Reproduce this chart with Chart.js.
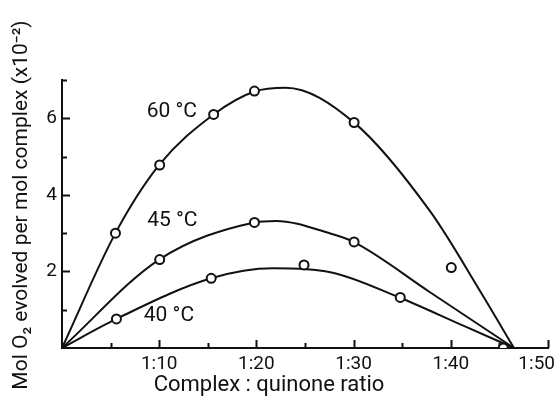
<!DOCTYPE html>
<html>
<head>
<meta charset="utf-8">
<script src="https://cdn.jsdelivr.net/npm/chart.js@4.4.0/dist/chart.umd.min.js"></script>
<style>
  html, body { margin: 0; padding: 0; background: #fff; }
  #wrap { width: 558px; height: 396px; }
</style>
</head>
<body>
<div id="wrap"><canvas id="o2Chart" width="558" height="396"></canvas></div>
<script>
// Series names
const seriesNames = ['60 °C', '45 °C', '40 °C'];

// Measured points (complex:quinone ratio 1:x, mol O2 x 10^-2)
const pts60X = [5.5, 10.05, 15.6, 19.8, 30.05];
const pts60Y = [3.0, 4.78, 6.1, 6.71, 5.89];
const pts45X = [10.05, 19.8, 30.05, 40.05];
const pts45Y = [2.31, 3.28, 2.77, 2.1];
const pts40X = [5.6, 15.35, 24.9, 34.8, 45.4];
const pts40Y = [0.76, 1.82, 2.17, 1.32, 0];

// Hand-fitted curves through the points
const curve60X = [0, 5.5, 10, 15.6, 19.8, 23, 30, 37.9, 43.1, 46.5];
const curve60Y = [0, 3.0, 4.78, 6.1, 6.7, 6.8, 5.9, 3.56, 1.45, 0];
const curve45X = [0, 10, 19.8, 22, 27.6, 30, 37.9, 46.5];
const curve45Y = [0, 2.31, 3.28, 3.32, 2.99, 2.77, 1.45, 0];
const curve40X = [0, 5.6, 15.35, 21.7, 27.6, 34.7, 41.4, 46.5];
const curve40Y = [0, 0.76, 1.82, 2.08, 1.98, 1.32, 0.57, 0];

// Axis ticks
const xTickValues = [10, 20, 30, 40, 50];
const xTickLabels = ['1:10', '1:20', '1:30', '1:40', '1:50'];
const yTickValues = [2, 4, 6];
const yTickLabels = ['2', '4', '6'];

const xTitle = 'Complex : quinone ratio';
const yTitle = 'Mol O\u2082 evolved per mol complex (x10\u207B\u00B2)';

const INK = '#111';
const FONT = 'Roboto, "DejaVu Sans", sans-serif';

const zip = (xs, ys) => xs.map((x, i) => ({ x: x, y: ys[i] }));

const pointSet = (data) => ({
    data: data,
    showLine: false,
    pointRadius: 4.5,
    pointBorderWidth: 2,
    pointBorderColor: INK,
    pointBackgroundColor: '#fff'
});

const curveSet = (data) => ({
    data: data,
    showLine: true,
    borderColor: INK,
    borderWidth: 2,
    pointRadius: 0,
    cubicInterpolationMode: 'monotone'
});

// where the temperature labels sit, in data units
const labelAnchors = [
    { x: 11.3, y: 6.16 },
    { x: 11.35, y: 3.32 },
    { x: 11.0, y: 0.84 }
];

// inward tick marks, tick labels, axis titles and curve labels
const decorations = {
    id: 'decorations',
    beforeDatasetsDraw(chart) {
        const { ctx, scales: { x, y } } = chart;
        ctx.save();
        ctx.strokeStyle = INK;
        ctx.lineWidth = 2;
        ctx.beginPath();
        x.ticks.forEach(t => {
            if (t.value === 0) return;
            const px = Math.round(x.getPixelForValue(t.value)) + 0.5;
            const len = xTickValues.includes(t.value) ? 8 : 5;
            ctx.moveTo(px, y.bottom);
            ctx.lineTo(px, y.bottom - len);
        });
        y.ticks.forEach(t => {
            if (t.value === 0) return;
            const py = Math.round(y.getPixelForValue(t.value)) + 0.5;
            const len = yTickValues.includes(t.value) ? 8 : 5;
            ctx.moveTo(x.left, py);
            ctx.lineTo(x.left + len, py);
        });
        ctx.stroke();
        ctx.restore();
    },
    afterDraw(chart) {
        const { ctx, scales: { x, y } } = chart;
        ctx.save();
        ctx.fillStyle = INK;
        ctx.textAlign = 'center';
        ctx.textBaseline = 'middle';

        // x tick labels, the last one kept inside the canvas
        ctx.font = '400 19px ' + FONT;
        xTickValues.forEach((v, i) => {
            const w = ctx.measureText(xTickLabels[i]).width;
            let px = x.getPixelForValue(v);
            px = Math.min(px, chart.width - 3 - w / 2);
            ctx.fillText(xTickLabels[i], px, y.bottom + 16);
        });

        ctx.font = '400 21px ' + FONT;
        seriesNames.forEach((name, i) => {
            const a = labelAnchors[i];
            ctx.fillText(name, x.getPixelForValue(a.x), y.getPixelForValue(a.y));
        });

        ctx.font = '400 22px ' + FONT;
        ctx.fillText(xTitle, x.getPixelForValue(21.3), 385);

        ctx.translate(22, 205);
        ctx.rotate(-Math.PI / 2);
        ctx.font = '400 21px ' + FONT;
        ctx.fillText(yTitle, 0, 0);
        ctx.restore();
    }
};

new Chart(document.getElementById('o2Chart'), {
    type: 'scatter',
    data: {
        datasets: [
            pointSet(zip(pts60X, pts60Y)),
            pointSet(zip(pts45X, pts45Y)),
            pointSet(zip(pts40X, pts40Y)),
            curveSet(zip(curve60X, curve60Y)),
            curveSet(zip(curve45X, curve45Y)),
            curveSet(zip(curve40X, curve40Y))
        ]
    },
    options: {
        responsive: false,
        animation: false,
        layout: { padding: { left: 0, right: 10, top: 80, bottom: 0 } },
        plugins: {
            legend: { display: false },
            tooltip: { enabled: false }
        },
        scales: {
            x: {
                type: 'linear',
                min: 0,
                max: 50,
                grid: { display: true, drawOnChartArea: false, drawTicks: false },
                border: { display: true, color: INK, width: 2 },
                ticks: { stepSize: 5, autoSkip: false, display: false },
                afterFit: (s) => {
                    s.height = 48;
                    s.paddingLeft = 0;
                    s.paddingRight = 0;
                }
            },
            y: {
                type: 'linear',
                min: 0,
                max: 7,
                grid: { display: true, drawOnChartArea: false, drawTicks: false },
                border: { display: true, color: INK, width: 2 },
                ticks: {
                    stepSize: 1,
                    autoSkip: false,
                    padding: 5,
                    color: INK,
                    font: { family: FONT, size: 19, weight: '400' },
                    callback: (v) => {
                        const i = yTickValues.indexOf(v);
                        return i >= 0 ? yTickLabels[i] : '';
                    }
                },
                afterFit: (s) => {
                    s.width = 62;
                    s.paddingTop = 0;
                    s.paddingBottom = 0;
                }
            }
        }
    },
    plugins: [decorations]
});
</script>
</body>
</html>
